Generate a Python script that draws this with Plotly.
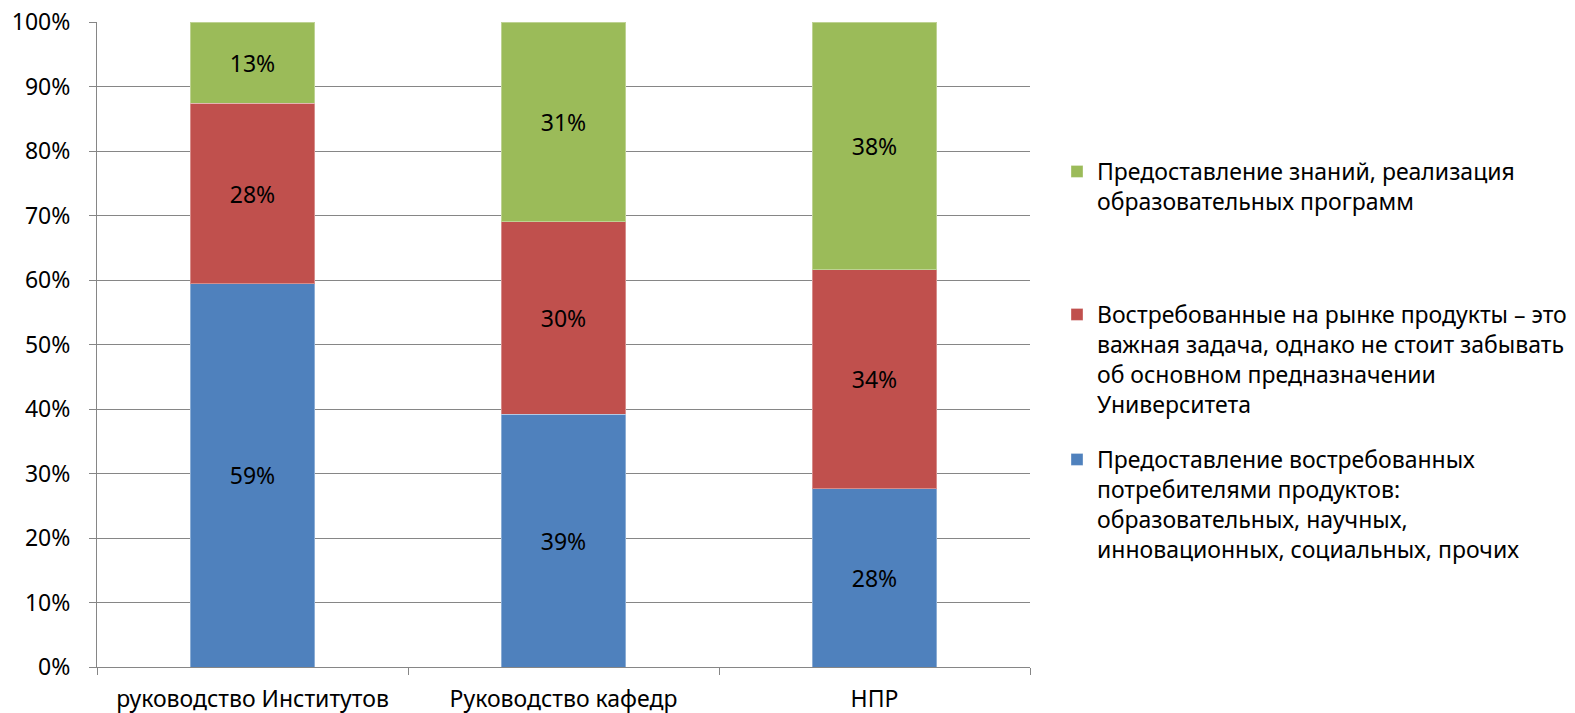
import plotly.graph_objects as go

categories = ["руководство Институтов", "Руководство кафедр", "НПР"]
blue_vals = [59.4, 39.2, 27.6]
red_vals = [28.0, 29.8, 34.0]
green_vals = [12.6, 31.0, 38.4]

blue_name = "Предоставление востребованных<br>потребителями продуктов:<br>образовательных, научных,<br>инновационных, социальных, прочих"
red_name = "Востребованные на рынке продукты – это<br>важная задача, однако не стоит забывать<br>об основном предназначении<br>Университета"
green_name = "Предоставление знаний, реализация<br>образовательных программ"

FONT = "Noto Sans"
FS = 23

series = [
    (blue_name, blue_vals, "#4F81BD", "legend3"),
    (red_name, red_vals, "#C0504D", "legend2"),
    (green_name, green_vals, "#9BBB59", "legend"),
]

fig = go.Figure()
for name, vals, color, lg in series:
    fig.add_trace(go.Bar(
        x=categories,
        y=[v / 100 for v in vals],
        name=name,
        legend=lg,
        marker=dict(color=color, line=dict(color="rgba(255,255,255,0.35)", width=1)),
        text=[f"{round(v)}%" for v in vals],
        textposition="inside",
        insidetextanchor="middle",
        textangle=0,
        textfont=dict(family=FONT, size=FS, color="#000000"),
        hoverinfo="skip",
    ))


def leg(ytop):
    return dict(
        xref="container", yref="container",
        x=1057 / 1575, y=1 - ytop / 713,
        xanchor="left", yanchor="top",
        valign="top",
        font=dict(family=FONT, size=FS, color="#000000"),
        bgcolor="rgba(0,0,0,0)",
    )


fig.update_layout(
    barmode="stack",
    bargap=0.6,
    width=1575,
    height=713,
    margin=dict(l=97, r=545, t=22, b=46, autoexpand=False),
    paper_bgcolor="white",
    plot_bgcolor="white",
    font=dict(family=FONT, size=FS, color="#000000"),
    showlegend=True,
    legend=leg(150),
    legend2=leg(293),
    legend3=leg(438),
)

fig.update_yaxes(
    range=[0, 1],
    dtick=0.1,
    tickformat=".0%",
    showgrid=True,
    gridcolor="#868686",
    gridwidth=1,
    ticks="outside",
    ticklen=7,
    tickcolor="#868686",
    showline=True,
    linecolor="#868686",
    linewidth=1,
    zeroline=False,
    automargin=False,
    ticklabelstandoff=14,
    tickfont=dict(family=FONT, size=FS, color="#000000"),
)
fig.update_xaxes(
    showline=True,
    linecolor="#868686",
    linewidth=1,
    ticks="outside",
    tickson="boundaries",
    ticklen=7,
    tickcolor="#868686",
    showgrid=False,
    automargin=False,
    ticklabelstandoff=11,
    tickfont=dict(family=FONT, size=FS, color="#000000"),
)

fig.write_html("out.html")
